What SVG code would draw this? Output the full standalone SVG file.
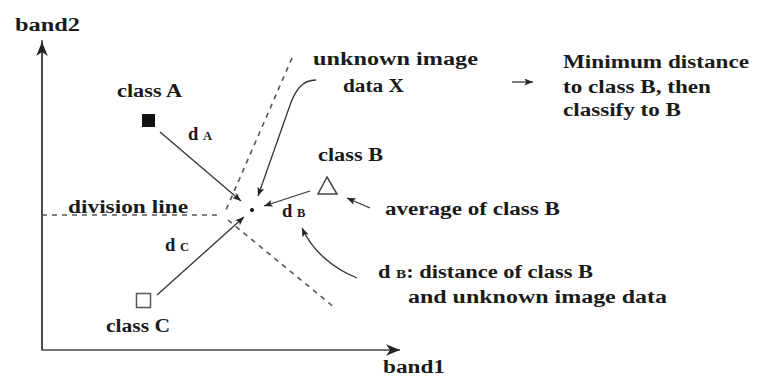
<svg xmlns="http://www.w3.org/2000/svg" width="765" height="377" viewBox="0 0 765 377">
<defs>
<style>
text{font-family:"Liberation Serif","DejaVu Serif",serif;font-weight:bold;fill:#1a1a1a;font-size:18.5px}
.sub{font-size:12.5px}
.ln{stroke:#333;stroke-width:1.3;fill:none}
.ax{stroke:#444;stroke-width:1.6;fill:none}
.dash{stroke:#555;stroke-width:1.6;fill:none;stroke-dasharray:5,5}
</style>
<marker id="ah" viewBox="0 0 10 8" refX="10" refY="4" markerWidth="9" markerHeight="7" markerUnits="userSpaceOnUse" orient="auto">
<path d="M0,0 L10,4 L0,8 L2.5,4 z" fill="#222"/>
</marker>
<marker id="axh" viewBox="0 0 12 10" refX="12" refY="5" markerWidth="14" markerHeight="12" markerUnits="userSpaceOnUse" orient="auto">
<path d="M0,0 L12,5 L0,10 L3.5,5 z" fill="#222"/>
</marker>
</defs>
<rect width="765" height="377" fill="#fff"/>

<g id="axes">
<path class="ax" d="M42,40 L42,350 L400,350" marker-end="url(#axh)"/>
<path class="ax" d="M42,350 L42,42" marker-end="url(#axh)"/>
<text x="15" y="31" textLength="65" lengthAdjust="spacingAndGlyphs">band2</text>
<text x="383" y="373" textLength="62" lengthAdjust="spacingAndGlyphs">band1</text>
</g>

<g id="division">
<path class="dash" d="M42,215 L222,215"/>
<path class="dash" d="M292,58 L226,210"/>
<path class="dash" d="M228,220 L335,308"/>
<text x="68" y="213" textLength="120" lengthAdjust="spacingAndGlyphs">division line</text>
</g>

<g id="classA">
<rect x="142" y="114" width="13" height="13" fill="#111"/>
<text x="117" y="97" textLength="65" lengthAdjust="spacingAndGlyphs">class A</text>
</g>

<g id="classB">
<path d="M327,177 L337,194 L318,194 z" fill="none" stroke="#444" stroke-width="1.5"/>
<text x="318" y="161" textLength="65" lengthAdjust="spacingAndGlyphs">class B</text>
<text x="385" y="215" textLength="175" lengthAdjust="spacingAndGlyphs">average of class B</text>
</g>

<g id="classC">
<rect x="136.5" y="293.5" width="14" height="14" fill="none" stroke="#555" stroke-width="1.5"/>
<text x="106" y="332" textLength="64" lengthAdjust="spacingAndGlyphs">class C</text>
</g>

<g id="dataX">
<circle cx="252" cy="210" r="2" fill="#111"/>
<text x="313" y="65" textLength="165" lengthAdjust="spacingAndGlyphs">unknown image</text>
<text x="343" y="92" textLength="61" lengthAdjust="spacingAndGlyphs">data X</text>
</g>

<g id="result">
<text x="563" y="68" textLength="186" lengthAdjust="spacingAndGlyphs">Minimum distance</text>
<text x="563" y="93" textLength="148" lengthAdjust="spacingAndGlyphs">to class B, then</text>
<text x="563" y="116" textLength="118" lengthAdjust="spacingAndGlyphs">classify to B</text>
</g>

<g id="dBnote">
<text x="378" y="278" textLength="215" lengthAdjust="spacingAndGlyphs">d <tspan class="sub">B</tspan>: distance of class B</text>
<text x="408" y="303" textLength="259" lengthAdjust="spacingAndGlyphs">and unknown image data</text>
</g>

<g id="labels">
<text x="188" y="140">d <tspan class="sub">A</tspan></text>
<text x="282" y="217">d <tspan class="sub">B</tspan></text>
<text x="165" y="251">d <tspan class="sub">C</tspan></text>
</g>

<g id="connectors">
<path class="ln" d="M160,132 L241,201" marker-end="url(#ah)"/>
<path class="ln" d="M310,191 L264,206" marker-end="url(#ah)"/>
<path class="ln" d="M157,295 L244,217" marker-end="url(#ah)"/>
<path class="ln" d="M316,80 C302,80 295,90 289,108 L258,196" marker-end="url(#ah)"/>
<path class="ln" d="M370,208 L347,198" marker-end="url(#ah)"/>
<path class="ln" d="M357,278 C332,268 312,250 302,228" marker-end="url(#ah)"/>
<path class="ln" d="M512,82 L533,82" marker-end="url(#ah)" stroke-width="1"/>
</g>
</svg>
